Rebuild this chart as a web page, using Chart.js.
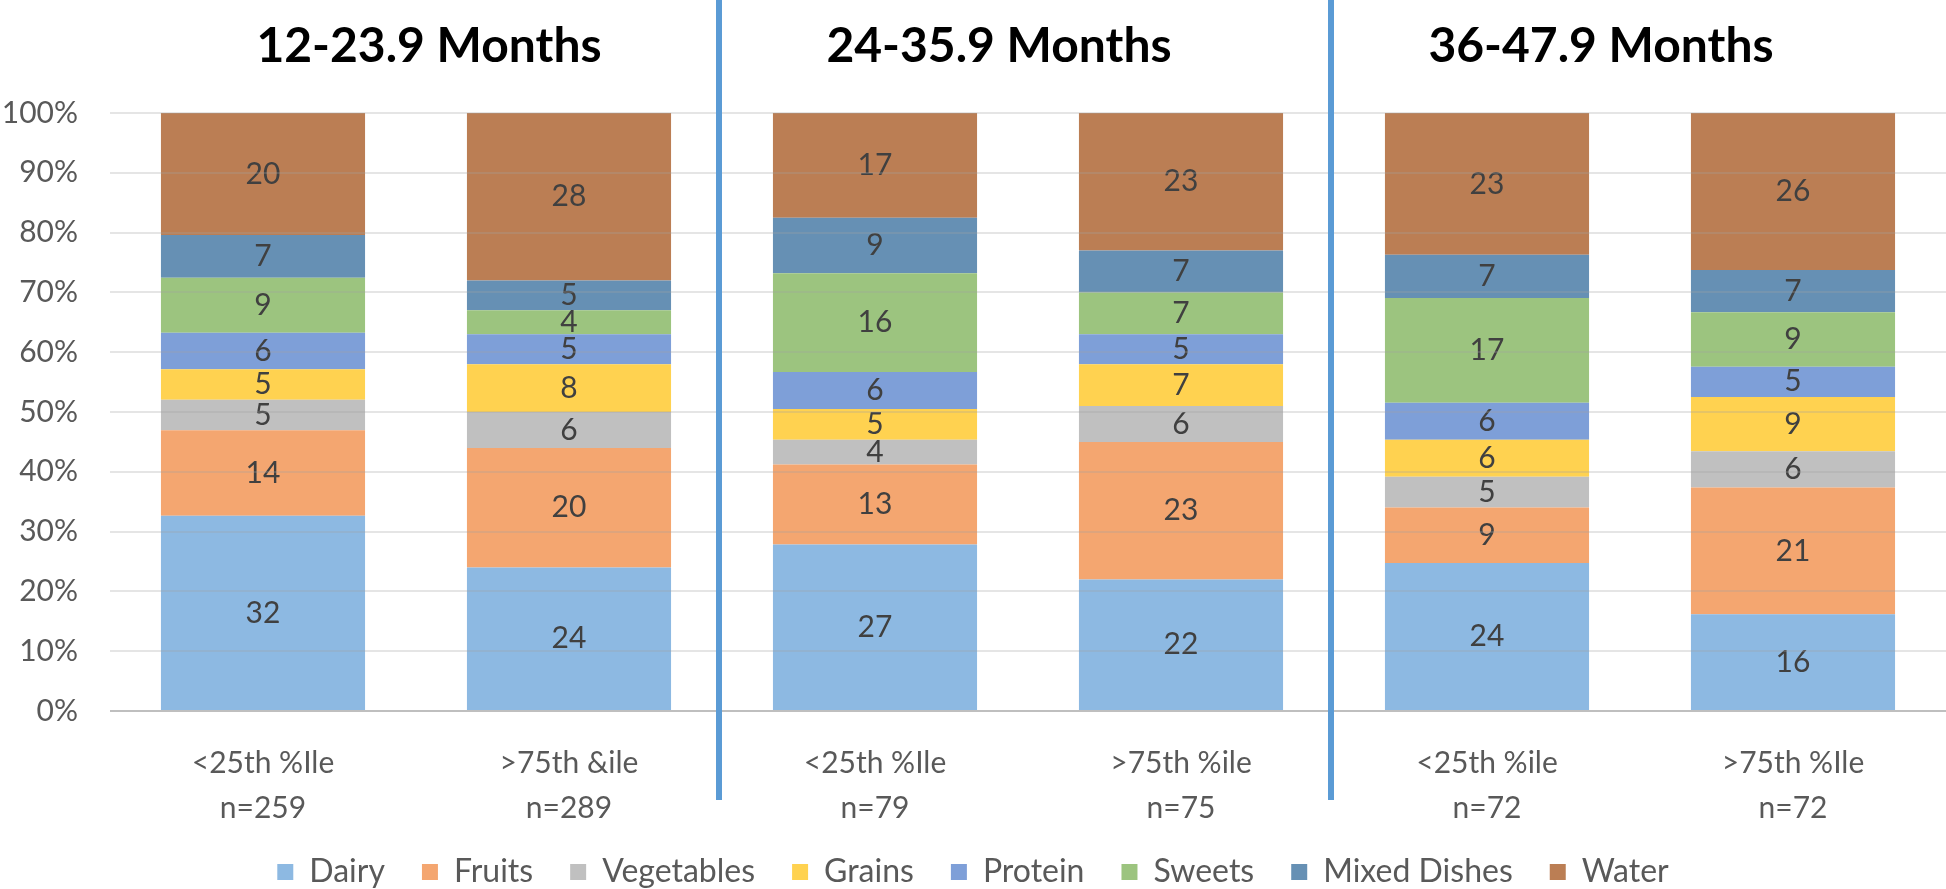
<!DOCTYPE html>
<html lang="en">
<head>
  <meta charset="UTF-8">
  <title>Food groups by percentile and age</title>
  <script src="https://cdn.jsdelivr.net/npm/chart.js"></script>
  <style>
    body { margin: 0; background: #fff; }
    #wrap { width: 1946px; height: 889px; }
  </style>
</head>
<body>
<div id="wrap"><canvas id="chart"></canvas></div>
<script>
  // categories (two-line tick labels)
  const categories = [
    ['<25th %Ile', 'n=259'],
    ['>75th &ile', 'n=289'],
    ['<25th %Ile', 'n=79'],
    ['>75th %ile', 'n=75'],
    ['<25th %ile', 'n=72'],
    ['>75th %Ile', 'n=72']
  ];
  const groupTitles = ['12-23.9 Months', '24-35.9 Months', '36-47.9 Months'];

  // series values (labels shown on bars; bars are stacked to 100%)
  const dairy      = [32, 24, 27, 22, 24, 16];
  const fruits     = [14, 20, 13, 23, 9, 21];
  const vegetables = [5, 6, 4, 6, 5, 6];
  const grains     = [5, 8, 5, 7, 6, 9];
  const protein    = [6, 5, 6, 5, 6, 5];
  const sweets     = [9, 4, 16, 7, 17, 9];
  const mixed      = [7, 5, 9, 7, 7, 7];
  const water      = [20, 28, 17, 23, 23, 26];

  const yTicks = [0, 10, 20, 30, 40, 50, 60, 70, 80, 90, 100];

  const series = [
    { name: 'Dairy', values: dairy, color: '#8db9e2' },
    { name: 'Fruits', values: fruits, color: '#f4a670' },
    { name: 'Vegetables', values: vegetables, color: '#c0c0c0' },
    { name: 'Grains', values: grains, color: '#ffd250' },
    { name: 'Protein', values: protein, color: '#7e9fd8' },
    { name: 'Sweets', values: sweets, color: '#9cc47f' },
    { name: 'Mixed Dishes', values: mixed, color: '#6690b4' },
    { name: 'Water', values: water, color: '#bb7e54' }
  ];

  // column totals for the 100% stack
  const totals = categories.map((c, i) => series.reduce((s, d) => s + d.values[i], 0));

  const FONT = 'Lato, "Open Sans", sans-serif';
  const LEGEND_PAD = 37;

  // bar value labels
  const valueLabels = {
    id: 'valueLabels',
    afterDatasetsDraw(chart) {
      const ctx = chart.ctx;
      ctx.save();
      ctx.font = '30px ' + FONT;
      ctx.fillStyle = '#404040';
      ctx.textAlign = 'center';
      ctx.textBaseline = 'middle';
      chart.data.datasets.forEach((ds, di) => {
        chart.getDatasetMeta(di).data.forEach((bar, i) => {
          ctx.fillText(String(series[di].values[i]), bar.x, (bar.y + bar.base) / 2);
        });
      });
      ctx.restore();
    }
  };

  // move the legend row down to the bottom edge, let x labels use the room below
  const legendPlace = {
    id: 'legendPlace',
    afterLayout(chart) {
      const lg = chart.legend;
      const shift = 872 - (lg.top + LEGEND_PAD + 16);
      lg.top += shift;
      lg.bottom += shift;
      chart.scales.x.bottom = chart.height;
    }
  };

  // group titles and blue separators
  const groups = {
    id: 'groups',
    afterDraw(chart) {
      const ctx = chart.ctx;
      const x = chart.scales.x;
      ctx.save();
      ctx.fillStyle = '#5b9bd5';
      [1, 3].forEach(i => {
        const sx = (x.getPixelForValue(i) + x.getPixelForValue(i + 1)) / 2 - 3;
        ctx.fillRect(sx - 3, 0, 6, 800);
      });
      const offsets = [13, -29, -39];
      ctx.font = 'bold 48px ' + FONT;
      ctx.fillStyle = '#000';
      ctx.textAlign = 'center';
      ctx.textBaseline = 'middle';
      groupTitles.forEach((t, g) => {
        const cx = (x.getPixelForValue(2 * g) + x.getPixelForValue(2 * g + 1)) / 2 + offsets[g];
        ctx.fillText(t, cx, 47);
      });
      ctx.restore();
    }
  };

  new Chart(document.getElementById('chart'), {
    type: 'bar',
    data: {
      labels: categories,
      datasets: series.map(s => ({
        label: s.name,
        data: s.values.map((v, i) => v / totals[i] * 100),
        backgroundColor: s.color,
        categoryPercentage: 1,
        barPercentage: 0.667
      }))
    },
    options: {
      responsive: true,
      maintainAspectRatio: false,
      animation: false,
      layout: { padding: { top: 113, left: 0, right: 0, bottom: 0 } },
      plugins: {
        tooltip: { enabled: false },
        legend: {
          position: 'bottom',
          labels: {
            font: { family: FONT, size: 32 },
            color: '#595959',
            boxWidth: 16,
            boxHeight: 16,
            padding: LEGEND_PAD
          }
        }
      },
      scales: {
        x: {
          stacked: true,
          grid: { display: false },
          border: { display: false },
          ticks: {
            font: { family: FONT, size: 30, lineHeight: 1.5 },
            color: '#595959',
            padding: 22,
            maxRotation: 0
          },
          afterFit(s) { s.height = 99; }
        },
        y: {
          stacked: true,
          min: 0,
          max: 100,
          afterBuildTicks(s) { s.ticks = yTicks.map(v => ({ value: v })); },
          ticks: {
            font: { family: FONT, size: 30 },
            color: '#595959',
            padding: 32,
            callback: v => v + '%'
          },
          grid: {
            z: 1,
            drawTicks: false,
            lineWidth: 2,
            // faint lines show through the bars like the original
            color: c => c.index === 0 ? '#bfbfbf' : 'rgba(160,160,160,0.28)'
          },
          border: { display: false },
          afterFit(s) { s.width = 110; }
        }
      }
    },
    plugins: [valueLabels, legendPlace, groups]
  });
</script>
</body>
</html>
